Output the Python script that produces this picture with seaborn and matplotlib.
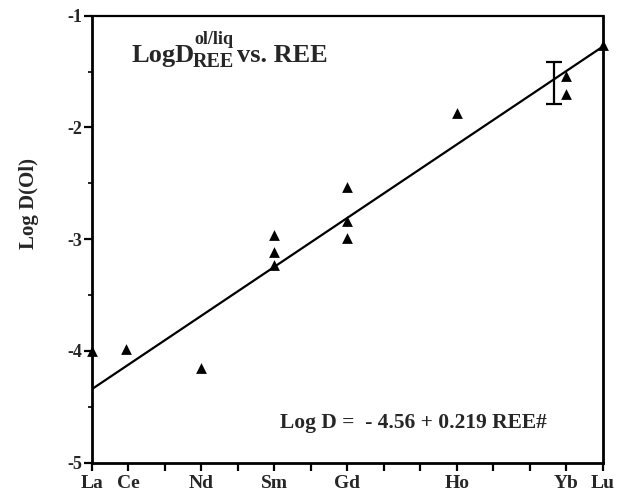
import numpy as np
import pandas as pd
import matplotlib
matplotlib.use("Agg")
import matplotlib.pyplot as plt
import seaborn as sns

sns.set_theme(style="white")
plt.rcParams["font.family"] = ["Liberation Serif", "DejaVu Serif"]
plt.rcParams["font.weight"] = "bold"

# REE number (La = 1 ... Lu = 15) and measured olivine/liquid partition coefficients
ree_number = [1, 1.92, 4, 6, 6, 6, 8, 8, 8, 11, 14, 14, 15]
log_d = [-4.00, -3.98, -4.15, -2.96, -3.11, -3.23, -2.53, -2.84, -2.99, -1.87, -1.54, -1.70, -1.26]

# Fitted relation: Log D = intercept + slope * REE#
intercept = -4.56
slope = 0.219
fit_x = [1, 15]

# Typical uncertainty
err_x = [13.67]
err_y = [-1.60]
err_half = [0.19]

tick_pos = [1, 2, 4, 6, 8, 11, 14, 15]
tick_labels = ["La", "Ce", "Nd", "Sm", "Gd", "Ho", "Yb", "Lu"]

df = pd.DataFrame({"ree": ree_number, "logd": log_d})
fit = pd.DataFrame({"ree": fit_x, "logd": [intercept + slope * x for x in fit_x]})

W, H = 617, 491
fig = plt.figure(figsize=(W / 100, H / 100), dpi=100)
ax = fig.add_axes([0.1491, 0.0576, 0.8282, 0.9104])

sns.lineplot(data=fit, x="ree", y="logd", color="black", linewidth=1.6, ax=ax)
sns.scatterplot(data=df, x="ree", y="logd", marker="^", s=60, color="black",
                edgecolor="black", linewidth=0, ax=ax, clip_on=False, zorder=5)
ax.errorbar(err_x, err_y, yerr=err_half, fmt="none", ecolor="black",
            elinewidth=1.6, capsize=5.5, capthick=1.6)

ax.set_xlim(1, 15)
ax.set_ylim(-5, -1)
ax.set_xticks(range(1, 16), minor=True)
ax.set_xticks(tick_pos)
ax.set_xticklabels(tick_labels, fontsize=14, fontweight="bold")
ax.set_yticks([-5, -4, -3, -2, -1])
ax.set_yticklabels(["-5", "-4", "-3", "-2", "-1"], fontsize=13, fontweight="bold")
ax.set_yticks(np.arange(-4.5, -1, 1.0), minor=True)
ax.tick_params(axis="both", which="major", direction="out", length=6, width=1.6,
               color="black", pad=1, bottom=True, left=True)
ax.tick_params(axis="x", which="major", pad=3)
ax.tick_params(axis="x", which="minor", direction="out", length=6, width=1.6,
               color="black", bottom=True)
ax.tick_params(axis="y", which="minor", direction="out", length=3, width=1.2,
               color="black", left=True)

ax.set_xlabel("")
ax.set_ylabel("Log D(Ol)", fontsize=15, fontweight="bold")
ax.yaxis.set_label_coords(-0.103, 0.58)

for side in ["left", "bottom", "right"]:
    ax.spines[side].set_linewidth(2.0)
    ax.spines[side].set_color("black")
ax.spines["top"].set_linewidth(1.6)
ax.spines["top"].set_color("black")


def put(x_px, y_px, s, size):
    fig.text(x_px / W, 1 - y_px / H, s, fontsize=size, fontweight="bold",
             ha="left", va="baseline")


# Heading: LogD with stacked ol/liq superscript and REE subscript
put(131, 62, "LogD", 19)
put(194, 44, "ol/liq", 13)
put(193, 67, "REE", 14.5)
put(237, 62, "vs. REE", 19)

# Regression equation
put(280, 428, "Log D =  - 4.56 + 0.219 REE#", 15.5)

fig.savefig("out.png", dpi=100)
